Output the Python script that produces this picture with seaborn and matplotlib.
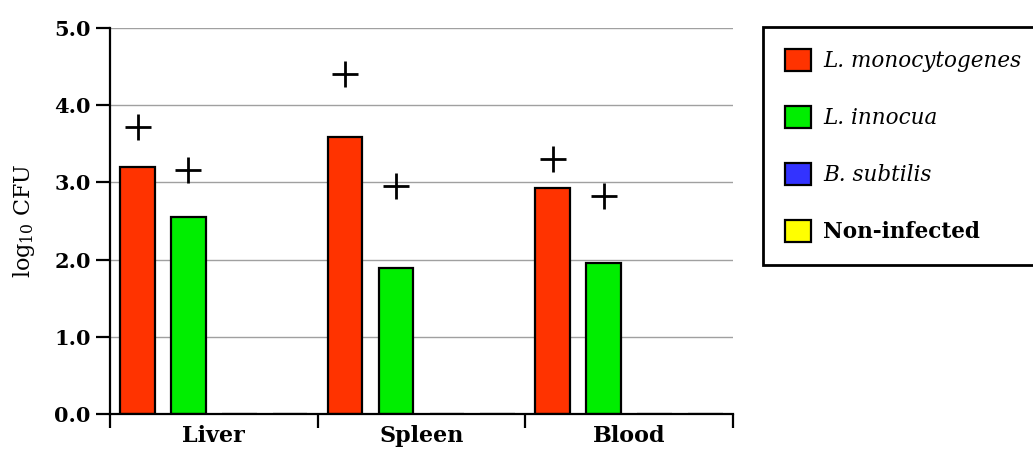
import matplotlib
matplotlib.use("Agg")
import matplotlib.pyplot as plt
import seaborn as sns
import pandas as pd
from matplotlib.patches import Patch

tissues = ["Liver", "Spleen", "Blood"]
strains = ["L. monocytogenes", "L. innocua", "B. subtilis", "Non-infected"]
colors = ["#FF3300", "#00EE00", "#3333FF", "#FFFF00"]
lmono = [3.20, 3.59, 2.93]
linno = [2.55, 1.89, 1.96]
bsub = [0.0, 0.0, 0.0]
noninf = [0.0, 0.0, 0.0]
# "+" marker heights per tissue (L. monocytogenes, L. innocua)
plus_lmono = [3.72, 4.40, 3.30]
plus_linno = [3.16, 2.95, 2.82]

sns.set_theme(style="white")
plt.rcParams["font.family"] = ["DejaVu Serif"]
plt.rcParams["mathtext.fontset"] = "dejavuserif"
for k in ["text.color", "axes.labelcolor", "xtick.color", "ytick.color"]:
    plt.rcParams[k] = "black"

rows = []
for s, vals in zip(strains, [lmono, linno, bsub, noninf]):
    for t, v in zip(tissues, vals):
        rows.append({"tissue": t, "strain": s, "value": v})
df = pd.DataFrame(rows)

fig = plt.figure(figsize=(10.33, 4.54), dpi=100)
ax = fig.add_axes([0.1065, 0.0881, 0.603, 0.850])

sns.barplot(data=df, x="tissue", y="value", hue="strain", order=tissues,
            hue_order=strains, palette=colors, width=0.98, gap=0.32,
            edgecolor="black", linewidth=1.6, saturation=1, ax=ax, legend=False,
            errorbar=None)

# plus markers positioned at bar centers
bars = [p for p in ax.patches]
def centers(k):
    ps = bars[k * 3:(k + 1) * 3]
    return [p.get_x() + p.get_width() / 2 for p in ps]
ax.scatter(centers(0), plus_lmono, marker="+", s=360, color="black", linewidths=2, zorder=5)
ax.scatter(centers(1), plus_linno, marker="+", s=360, color="black", linewidths=2, zorder=5)

ax.set_xlim(-0.5, 2.5)
ax.set_ylim(0, 5.0)
ax.set_yticks([0, 1, 2, 3, 4, 5])
ax.set_yticklabels([f"{v:.1f}" for v in [0, 1, 2, 3, 4, 5]], fontweight="bold", fontsize=15)
ax.yaxis.grid(True, color="#a0a0a0", linewidth=1)
ax.set_axisbelow(True)
ax.set_xticks([0, 1, 2])
ax.set_xticklabels(tissues, fontweight="bold", fontsize=16)
ax.set_xticks([-0.5, 0.5, 1.5, 2.5], minor=True)
ax.tick_params(axis="x", which="major", length=0, pad=8)
ax.tick_params(axis="x", which="minor", length=10, width=1.6, color="black", direction="out", bottom=True)
ax.tick_params(axis="y", length=10, width=1.6, color="black", direction="out", left=True, pad=4)
for side in ["top", "right"]:
    ax.spines[side].set_visible(False)
for side in ["left", "bottom"]:
    ax.spines[side].set_color("black")
    ax.spines[side].set_linewidth(1.6)
ax.set_xlabel("")
ax.set_ylabel("log$_{10}$ CFU", fontsize=16, labelpad=12)

handles = [Patch(facecolor=c, edgecolor="black", linewidth=1.6) for c in colors]
leg = fig.legend(handles, strains, loc="upper left", bbox_to_anchor=(0.7386, 0.9405),
                 bbox_transform=fig.transFigure, fontsize=15.5, frameon=True,
                 fancybox=False, edgecolor="black", framealpha=1,
                 handlelength=1.25, handleheight=1.25,
                 labelspacing=1.55, borderpad=1.0, handletextpad=0.55, borderaxespad=0)
leg.get_frame().set_linewidth(2)
for i, t in enumerate(leg.get_texts()):
    if i < 3:
        t.set_fontstyle("italic")
    else:
        t.set_fontweight("bold")

fig.savefig("out.png", dpi=100)
